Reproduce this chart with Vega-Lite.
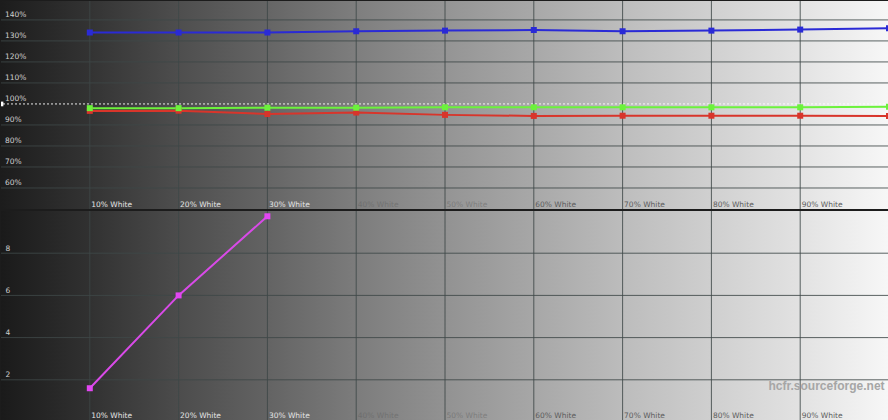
{
  "$schema": "https://vega.github.io/schema/vega-lite/v6.json",
  "background": "#1c1c1c",
  "padding": 0,
  "spacing": 0,
  "datasets": {
    "rgb": [
      {"pct": 10, "channel": "Red", "value": 96.7},
      {"pct": 20, "channel": "Red", "value": 96.8},
      {"pct": 30, "channel": "Red", "value": 95.2},
      {"pct": 40, "channel": "Red", "value": 95.9},
      {"pct": 50, "channel": "Red", "value": 94.8},
      {"pct": 60, "channel": "Red", "value": 94.3},
      {"pct": 70, "channel": "Red", "value": 94.4},
      {"pct": 80, "channel": "Red", "value": 94.4},
      {"pct": 90, "channel": "Red", "value": 94.4},
      {"pct": 100, "channel": "Red", "value": 94.3},
      {"pct": 10, "channel": "Green", "value": 98.0},
      {"pct": 20, "channel": "Green", "value": 98.0},
      {"pct": 30, "channel": "Green", "value": 98.2},
      {"pct": 40, "channel": "Green", "value": 98.2},
      {"pct": 50, "channel": "Green", "value": 98.4},
      {"pct": 60, "channel": "Green", "value": 98.4},
      {"pct": 70, "channel": "Green", "value": 98.4},
      {"pct": 80, "channel": "Green", "value": 98.4},
      {"pct": 90, "channel": "Green", "value": 98.4},
      {"pct": 100, "channel": "Green", "value": 98.7},
      {"pct": 10, "channel": "Blue", "value": 134.0},
      {"pct": 20, "channel": "Blue", "value": 134.0},
      {"pct": 30, "channel": "Blue", "value": 134.0},
      {"pct": 40, "channel": "Blue", "value": 134.6},
      {"pct": 50, "channel": "Blue", "value": 134.9},
      {"pct": 60, "channel": "Blue", "value": 135.2},
      {"pct": 70, "channel": "Blue", "value": 134.6},
      {"pct": 80, "channel": "Blue", "value": 134.9},
      {"pct": 90, "channel": "Blue", "value": 135.4},
      {"pct": 100, "channel": "Blue", "value": 136.0}
    ],
    "deltaE": [
      {"pct": 10, "value": 1.6},
      {"pct": 20, "value": 6.0},
      {"pct": 30, "value": 9.75}
    ],
    "gridX": [{"g": 10}, {"g": 20}, {"g": 30}, {"g": 40}, {"g": 50}, {"g": 60}, {"g": 70}, {"g": 80}, {"g": 90}],
    "gridTop": [{"g": 60}, {"g": 70}, {"g": 80}, {"g": 90}, {"g": 110}, {"g": 120}, {"g": 130}, {"g": 140}],
    "gridBottom": [{"g": 2}, {"g": 4}, {"g": 6}, {"g": 8}],
    "topLabels": [
      {"v": 60, "label": "60%"}, {"v": 70, "label": "70%"}, {"v": 80, "label": "80%"},
      {"v": 90, "label": "90%"}, {"v": 100, "label": "100%"}, {"v": 110, "label": "110%"},
      {"v": 120, "label": "120%"}, {"v": 130, "label": "130%"}, {"v": 140, "label": "140%"}
    ]
  },
  "vconcat": [
    {
      "width": 888,
      "height": 208,
      "layer": [
        {
          "data": {"values": [{"a": 0, "b": 100, "lo": 50, "hi": 149}]},
          "mark": {
            "type": "rect",
            "color": {
              "gradient": "linear", "x1": 0, "x2": 1, "y1": 0, "y2": 0,
              "stops": [
                {"offset": 0, "color": "#1c1c1c"},
                {"offset": 0.1, "color": "#333333"},
                {"offset": 0.2, "color": "#4e4e4e"},
                {"offset": 0.3, "color": "#656565"},
                {"offset": 0.4, "color": "#7e7e7e"},
                {"offset": 0.5, "color": "#949494"},
                {"offset": 0.6, "color": "#a8a8a8"},
                {"offset": 0.7, "color": "#bdbdbd"},
                {"offset": 0.8, "color": "#d0d0d0"},
                {"offset": 0.9, "color": "#e3e3e3"},
                {"offset": 1, "color": "#f7f7f7"}
              ]
            }
          },
          "encoding": {
            "x": {
              "field": "a", "type": "quantitative",
              "scale": {"domain": [0, 100], "nice": false, "zero": false},
              "axis": {
                "title": null,
                "values": [10, 20, 30, 40, 50, 60, 70, 80, 90],
                "labelExpr": "datum.value + '% White'",
                "orient": "bottom", "offset": -1, "zindex": 2, "labelOverlap": false,
                "labelColor": {"condition": {"test": "datum.value <= 30", "value": "#e4e4e4"}, "value": "#5c5c5c"},
                "labelOpacity": {"condition": {"test": "datum.value == 40 || datum.value == 50", "value": 0.45}, "value": 1}
              }
            },
            "x2": {"field": "b"},
            "y": {
              "field": "lo", "type": "quantitative",
              "scale": {"domain": [50, 149], "nice": false, "zero": false},
              "axis": null
            },
            "y2": {"field": "hi"}
          }
        },
        {
          "data": {"name": "gridX"},
          "mark": {"type": "rule", "color": "#3e4848", "strokeWidth": 1, "opacity": 0.85},
          "encoding": {"x": {"field": "g", "type": "quantitative"}}
        },
        {
          "data": {"name": "gridTop"},
          "mark": {"type": "rule", "color": "#3e4848", "strokeWidth": 1, "opacity": 0.85},
          "encoding": {"y": {"field": "g", "type": "quantitative"}}
        },
        {
          "data": {"name": "topLabels"},
          "mark": {"type": "text", "align": "left", "baseline": "bottom", "dx": 4, "dy": -1, "font": "DejaVu Sans", "fontSize": 7.5, "color": "#cfcfcf"},
          "encoding": {
            "x": {"datum": 0, "type": "quantitative"},
            "y": {"field": "v", "type": "quantitative"},
            "text": {"field": "label"}
          }
        },
        {
          "data": {"values": [{"ref": 100, "x": 0}]},
          "mark": {"type": "rule", "color": "#ffffff", "strokeDash": [2, 2], "strokeWidth": 1, "opacity": 0.9},
          "encoding": {"y": {"field": "ref", "type": "quantitative"}}
        },
        {
          "data": {"values": [{"ref": 100, "x": 0}]},
          "mark": {"type": "point", "shape": "square", "filled": true, "color": "#ffffff", "size": 22, "opacity": 1, "clip": true},
          "encoding": {
            "x": {"field": "x", "type": "quantitative"},
            "y": {"field": "ref", "type": "quantitative"}
          }
        },
        {
          "data": {"name": "rgb"},
          "mark": {"type": "line", "strokeWidth": 2, "clip": true},
          "encoding": {
            "x": {"field": "pct", "type": "quantitative"},
            "y": {"field": "value", "type": "quantitative"},
            "color": {
              "field": "channel", "type": "nominal", "legend": null,
              "scale": {"domain": ["Red", "Green", "Blue"], "range": ["#d8352b", "#6cf23c", "#2a2ad6"]}
            }
          }
        },
        {
          "data": {"name": "rgb"},
          "mark": {"type": "point", "shape": "square", "filled": true, "size": 36, "opacity": 1, "clip": true},
          "encoding": {
            "x": {"field": "pct", "type": "quantitative"},
            "y": {"field": "value", "type": "quantitative"},
            "color": {
              "field": "channel", "type": "nominal", "legend": null,
              "scale": {"domain": ["Red", "Green", "Blue"], "range": ["#d8352b", "#7cff4a", "#1f1fd0"]}
            }
          }
        }
      ]
    },
    {
      "width": 888,
      "height": 211,
      "layer": [
        {
          "data": {"values": [{"a": 0, "b": 100, "lo": 0, "hi": 10}]},
          "mark": {
            "type": "rect",
            "color": {
              "gradient": "linear", "x1": 0, "x2": 1, "y1": 0, "y2": 0,
              "stops": [
                {"offset": 0, "color": "#1a1a1a"},
                {"offset": 0.1, "color": "#313131"},
                {"offset": 0.2, "color": "#4c4c4c"},
                {"offset": 0.3, "color": "#636363"},
                {"offset": 0.4, "color": "#7c7c7c"},
                {"offset": 0.5, "color": "#929292"},
                {"offset": 0.6, "color": "#a7a7a7"},
                {"offset": 0.7, "color": "#bcbcbc"},
                {"offset": 0.8, "color": "#cfcfcf"},
                {"offset": 0.9, "color": "#e2e2e2"},
                {"offset": 1, "color": "#f7f7f7"}
              ]
            }
          },
          "encoding": {
            "x": {
              "field": "a", "type": "quantitative",
              "scale": {"domain": [0, 100], "nice": false, "zero": false},
              "axis": {
                "title": null,
                "values": [10, 20, 30, 40, 50, 60, 70, 80, 90],
                "labelExpr": "datum.value + '% White'",
                "orient": "bottom", "offset": -3, "zindex": 2, "labelOverlap": false,
                "labelColor": {"condition": {"test": "datum.value <= 30", "value": "#e4e4e4"}, "value": "#5c5c5c"},
                "labelOpacity": {"condition": {"test": "datum.value == 40 || datum.value == 50", "value": 0.45}, "value": 1}
              }
            },
            "x2": {"field": "b"},
            "y": {
              "field": "lo", "type": "quantitative",
              "scale": {"domain": [0, 10], "nice": false, "zero": false},
              "axis": {
                "title": null,
                "values": [2, 4, 6, 8],
                "orient": "left", "offset": -4, "zindex": 2, "labelOverlap": false
              }
            },
            "y2": {"field": "hi"}
          }
        },
        {
          "data": {"name": "gridX"},
          "mark": {"type": "rule", "color": "#3e4848", "strokeWidth": 1, "opacity": 0.85},
          "encoding": {"x": {"field": "g", "type": "quantitative"}}
        },
        {
          "data": {"name": "gridBottom"},
          "mark": {"type": "rule", "color": "#3e4848", "strokeWidth": 1, "opacity": 0.85},
          "encoding": {"y": {"field": "g", "type": "quantitative"}}
        },
        {
          "data": {"name": "deltaE"},
          "mark": {"type": "line", "color": "#d94ae8", "strokeWidth": 2, "clip": true},
          "encoding": {
            "x": {"field": "pct", "type": "quantitative"},
            "y": {"field": "value", "type": "quantitative"}
          }
        },
        {
          "data": {"name": "deltaE"},
          "mark": {"type": "point", "shape": "square", "filled": true, "color": "#e246f2", "size": 36, "opacity": 1, "clip": true},
          "encoding": {
            "x": {"field": "pct", "type": "quantitative"},
            "y": {"field": "value", "type": "quantitative"}
          }
        },
        {
          "data": {"values": [{"x": 99.5, "y": 1.7, "t": "hcfr.sourceforge.net"}]},
          "mark": {"type": "text", "align": "right", "baseline": "middle", "font": "Liberation Sans", "fontSize": 12, "fontWeight": "bold", "color": "#a6a6a6"},
          "encoding": {
            "x": {"field": "x", "type": "quantitative"},
            "y": {"field": "y", "type": "quantitative"},
            "text": {"field": "t"}
          }
        }
      ]
    }
  ],
  "config": {
    "view": {"stroke": null},
    "concat": {"spacing": 0},
    "axis": {
      "grid": false,
      "ticks": false,
      "domain": false,
      "labelFont": "DejaVu Sans",
      "labelFontSize": 7.5,
      "labelPadding": 0,
      "labelFlush": false,
      "labelOverlap": false
    },
    "axisX": {
      "labelAlign": "left",
      "labelBaseline": "bottom",
      "labelOffset": 1
    },
    "axisY": {
      "labelAlign": "left",
      "labelBaseline": "bottom",
      "labelOffset": -1,
      "labelColor": "#cfcfcf"
    }
  }
}
